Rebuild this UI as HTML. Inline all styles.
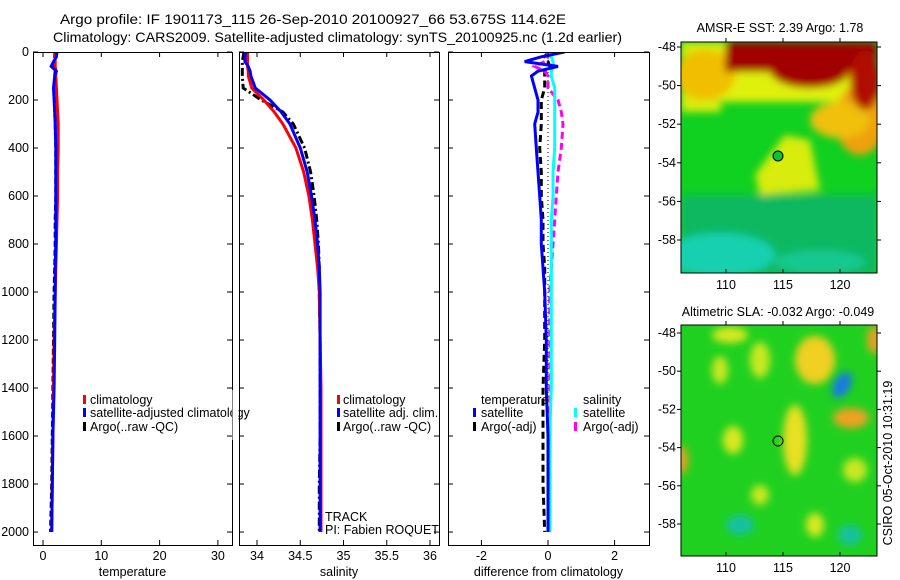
<!DOCTYPE html>
<html><head><meta charset="utf-8"><style>
body{margin:0;background:#fff;}
svg{display:block;font-family:"Liberation Sans",sans-serif;}
text{font-size:12.5px;fill:#000;}
</style></head><body>
<svg id="fig" width="900" height="580">
<defs>
<filter id="blur1" x="-50%" y="-50%" width="200%" height="200%"><feGaussianBlur stdDeviation="4"/></filter>
<clipPath id="c1"><rect x="33" y="52" width="199" height="493"/></clipPath>
<clipPath id="c2"><rect x="239" y="52" width="200" height="493"/></clipPath>
<clipPath id="c3"><rect x="448" y="52" width="201" height="493"/></clipPath>
<clipPath id="m1"><rect x="681" y="42" width="196" height="231"/></clipPath>
<clipPath id="m2"><rect x="681" y="325" width="196" height="231"/></clipPath>
</defs>
<text x="60" y="24" textLength="506" lengthAdjust="spacingAndGlyphs" style="font-size:14px">Argo profile: IF 1901173_115 26-Sep-2010 20100927_66 53.675S 114.62E</text>
<text x="53" y="42" textLength="569" lengthAdjust="spacingAndGlyphs" style="font-size:14px">Climatology: CARS2009. Satellite-adjusted climatology: synTS_20100925.nc (1.2d earlier)</text>
<g id="g1" clip-path="url(#c1)"></g>
<g id="g2" clip-path="url(#c2)"></g>
<g id="g3" clip-path="url(#c3)"></g>
<g id="axes"></g>

<!-- SST map -->
<g clip-path="url(#m1)">
<rect x="681" y="42" width="196" height="231" fill="#10d020"/>
<g filter="url(#blur1)">
<rect x="681" y="195" width="196" height="80" fill="#10b860"/>
<ellipse cx="720" cy="255" rx="55" ry="22" fill="#18d0b0"/>
<ellipse cx="820" cy="262" rx="45" ry="12" fill="#18c890"/>
<rect x="681" y="42" width="196" height="60" fill="#e0f010"/>
<rect x="681" y="42" width="40" height="70" fill="#d8ec10"/>
<ellipse cx="705" cy="75" rx="30" ry="25" fill="#f0c000"/>
<ellipse cx="860" cy="120" rx="25" ry="35" fill="#f0a010"/>
<ellipse cx="840" cy="120" rx="30" ry="18" fill="#f0c010"/>
<polygon points="785,135 810,140 820,190 760,195 755,175" fill="#d8ec10"/>
<rect x="725" y="42" width="152" height="30" fill="#a00000"/>
<ellipse cx="810" cy="70" rx="40" ry="18" fill="#a00000"/>
<ellipse cx="865" cy="80" rx="15" ry="30" fill="#b01000"/>
</g>
</g>
<rect x="681" y="42" width="196" height="231" fill="none" stroke="#000"/>
<circle cx="778" cy="156" r="5" fill="#10c030" stroke="#000"/>
<text x="780" y="32" text-anchor="middle">AMSR-E SST: 2.39 Argo: 1.78</text>

<!-- SLA map -->
<g clip-path="url(#m2)">
<rect x="681" y="325" width="196" height="231" fill="#20d020"/>
<g filter="url(#blur1)">
<ellipse cx="815" cy="360" rx="20" ry="24" fill="#f0d020"/>
<ellipse cx="795" cy="440" rx="12" ry="35" fill="#e8e020"/>
<ellipse cx="851" cy="418" rx="18" ry="10" fill="#f0a020"/>
<ellipse cx="730" cy="335" rx="18" ry="8" fill="#d8e820"/>
<ellipse cx="733" cy="440" rx="10" ry="14" fill="#d8e820"/>
<ellipse cx="760" cy="360" rx="10" ry="18" fill="#c8e820"/>
<ellipse cx="720" cy="370" rx="8" ry="14" fill="#c8e820"/>
<ellipse cx="815" cy="525" rx="9" ry="12" fill="#d8e820"/>
<ellipse cx="760" cy="495" rx="9" ry="10" fill="#c8e820"/>
<ellipse cx="855" cy="470" rx="12" ry="12" fill="#c8e820"/>
<ellipse cx="740" cy="525" rx="14" ry="10" fill="#18c0a0"/>
<ellipse cx="850" cy="535" rx="12" ry="10" fill="#18c0a0"/>
<ellipse cx="874" cy="340" rx="7" ry="14" fill="#e8a020"/>
<ellipse cx="682" cy="460" rx="6" ry="14" fill="#e8a020"/>
</g>
<ellipse cx="842" cy="385" rx="8" ry="14" fill="#1878e8" transform="rotate(30 842 385)" filter="url(#blur1)"/>
</g>
<rect x="681" y="325" width="196" height="231" fill="none" stroke="#000"/>
<circle cx="778" cy="441" r="5" fill="none" stroke="#000"/>
<text x="778" y="316" text-anchor="middle">Altimetric SLA: -0.032 Argo: -0.049</text>
<text transform="translate(892,463) rotate(-90)" text-anchor="middle">CSIRO 05-Oct-2010 10:31:19</text>
<g id="maxes"></g>

<!-- legends -->
<g>
<rect x="83" y="395" width="3" height="9" fill="red"/><text x="90" y="404">climatology</text>
<rect x="83" y="408" width="3" height="9" fill="blue"/><text x="90" y="417">satellite-adjusted climatology</text>
<rect x="83" y="422" width="3" height="9" fill="#000"/><text x="90" y="431">Argo(..raw -QC)</text>
</g>
<rect x="232.5" y="390" width="6" height="50" fill="#fff"/>
<g>
<rect x="337" y="395" width="3" height="9" fill="red"/><text x="343" y="404">climatology</text>
<rect x="337" y="408" width="3" height="9" fill="blue"/><text x="343" y="417">satellite adj. clim.</text>
<rect x="337" y="422" width="3" height="9" fill="#000"/><text x="343" y="431">Argo(..raw -QC)</text>
<text x="325" y="521">TRACK</text>
<text x="325" y="534">PI: Fabien ROQUET</text>
</g>
<g>
<text x="481" y="404">temperature</text>
<rect x="473" y="408" width="3" height="9" fill="blue"/><text x="481" y="417">satellite</text>
<rect x="473" y="422" width="3" height="9" fill="#000"/><text x="481" y="431">Argo(-adj)</text>
<text x="583" y="404">salinity</text>
<rect x="574" y="408" width="3" height="9" fill="cyan"/><text x="583" y="417">satellite</text>
<rect x="574" y="422" width="3" height="9" fill="magenta"/><text x="583" y="431">Argo(-adj)</text>
</g>
</svg>
<script>
// depth grid (dbar)
const depths = [0,20,40,60,80,100,150,200,250,300,400,500,600,700,800,900,1000,1200,1400,1600,1800,2000];
// temperature
const tClim = [2.0,2.1,2.1,2.1,2.2,2.2,2.3,2.4,2.5,2.6,2.6,2.5,2.5,2.4,2.3,2.2,2.1,1.9,1.8,1.7,1.6,1.5];
const tSat  = [2.4,2.3,1.8,1.4,2.3,2.0,1.8,1.9,2.0,2.1,2.2,2.2,2.2,2.2,2.2,2.1,2.1,2.0,1.9,1.7,1.6,1.5];
const tArgo = [2.0,2.0,2.0,1.9,2.1,2.0,1.9,2.0,2.0,2.1,2.2,2.2,2.2,2.1,2.1,2.0,1.9,1.8,1.7,1.6,1.5,1.3];
// salinity
const sClim = [33.89,33.89,33.89,33.89,33.9,33.9,33.94,34.08,34.2,34.3,34.45,34.54,34.6,34.64,34.67,34.7,34.72,34.73,34.74,34.74,34.74,34.74];
const sSat  = [33.87,33.86,33.86,33.9,33.92,33.93,33.98,34.15,34.28,34.38,34.5,34.58,34.63,34.67,34.7,34.72,34.73,34.73,34.73,34.73,34.73,34.73];
const sArgo = [33.85,33.84,33.83,33.83,33.83,33.83,33.84,34.05,34.3,34.42,34.55,34.62,34.66,34.69,34.71,34.72,34.72,34.73,34.73,34.73,34.72,34.72];
// differences
const dTSat  = [0.5,-0.2,-0.7,0.3,-0.3,-0.5,-0.4,-0.3,-0.3,-0.4,-0.35,-0.3,-0.25,-0.2,-0.2,-0.15,-0.1,-0.05,-0.05,0,0,0];
const dTArgo = [0,-0.1,0,0.05,-0.1,-0.1,-0.1,-0.2,-0.2,-0.2,-0.25,-0.2,-0.2,-0.15,-0.15,-0.1,-0.1,-0.1,-0.15,-0.15,-0.15,-0.1];
const dSSat  = [0,0.1,0.15,0.15,0.1,0.1,0.2,0.2,0.2,0.2,0.2,0.15,0.15,0.1,0.1,0.1,0.1,0.1,0.1,0.05,0.05,0.05];
const dSArgo = [-0.05,0,-0.1,-0.4,-0.1,0,0,0.3,0.4,0.45,0.4,0.3,0.25,0.2,0.15,0.1,0.05,0.05,0.05,0.05,0.05,0.05];
const tTicks = [0,10,20,30];
const sTicks = [34,34.5,35,35.5,36];
const dTicks = [-2,0,2];
const yTicks = [0,200,400,600,800,1000,1200,1400,1600,1800,2000];
const lonTicks = [110,115,120];
const latTicks = [48,50,52,54,56,58];

const NS='http://www.w3.org/2000/svg';
const Y0=52, Y1=545, YMAX=2054;
const y = d => Y0 + d/YMAX*(Y1-Y0);
const xT = v => 43 + v*5.83;
const xS = v => 257 + (v-34)*86.5;
const xD = v => 548 + v*33.3;
function mk(tag, attrs, parent){const e=document.createElementNS(NS,tag);for(const k in attrs)e.setAttribute(k,attrs[k]);parent.appendChild(e);return e;}
function line(g, vals, fx, color, dash, name, w){
  let d='';
  vals.forEach((v,i)=>{d+=(i?'L':'M')+fx(v).toFixed(1)+','+y(depths[i]).toFixed(1);});
  const p=mk('path',{d:d,fill:'none',stroke:color,'stroke-width':w||3},g);
  if(dash)p.setAttribute('stroke-dasharray',dash);
  
  
}
const g1=document.getElementById('g1'),g2=document.getElementById('g2'),g3=document.getElementById('g3');
line(g1,tArgo,xT,'#000','6,3','temp-argo-line');
line(g1,tClim,xT,'red',null,'temp-climatology-line');
line(g1,tSat,xT,'blue',null,'temp-satellite-line');
line(g2,sArgo,xS,'#000','8,3,2,3','sal-argo-line');
line(g2,sClim,xS,'red',null,'sal-climatology-line');
line(g2,sSat,xS,'blue',null,'sal-satellite-line');
const zl=mk('line',{x1:xD(0),x2:xD(0),y1:y(0),y2:y(2000),stroke:'#000','stroke-dasharray':'1,3'},g3);


line(g3,dTArgo,xD,'#000','7,4','diff-temp-argo-line');
line(g3,dSArgo,xD,'magenta','7,4','diff-sal-argo-line');
line(g3,dSSat,xD,'cyan',null,'diff-sal-satellite-line');
line(g3,dTSat,xD,'blue',null,'diff-temp-satellite-line');

const ax=document.getElementById('axes');
function panel(x0,x1,ticks,fx,label,name,ylabels){
  const r=mk('rect',{x:x0+0.5,y:Y0+0.5,width:x1-x0,height:Y1-Y0,fill:'none',stroke:'#000'},ax);
  
  
  ticks.forEach(t=>{const X=fx(t);
    mk('line',{x1:X,x2:X,y1:Y1,y2:Y1-5,stroke:'#000'},ax);
    mk('line',{x1:X,x2:X,y1:Y0,y2:Y0+5,stroke:'#000'},ax);
    const tx=mk('text',{x:X,y:Y1+15,'text-anchor':'middle'},ax);tx.textContent=t;
    
    
  });
  yTicks.forEach(d=>{const Y=y(d);
    mk('line',{x1:x0,x2:x0+5,y1:Y,y2:Y,stroke:'#000'},ax);
    mk('line',{x1:x1-5,x2:x1,y1:Y,y2:Y,stroke:'#000'},ax);
    if(ylabels){const tx=mk('text',{x:x0-4,y:Y+4,'text-anchor':'end'},ax);tx.textContent=d;
      
      }
  });
  const lb=mk('text',{x:(x0+x1)/2,y:Y1+31,'text-anchor':'middle'},ax);lb.textContent=label;
  
  
}
panel(33,232,tTicks,xT,'temperature','temperature',true);
panel(239,439,sTicks,xS,'salinity','salinity',false);
panel(448,649,dTicks,xD,'difference from climatology','difference',false);

const ma=document.getElementById('maxes');
const lonX = v => 726 + (v-110)*11.4;
[[42,273,47,19.3],[325,556,333,19.1]].forEach(([t,b,y48,s])=>{
  lonTicks.forEach(v=>{const X=lonX(v);
    mk('line',{x1:X,x2:X,y1:b,y2:b-4,stroke:'#000'},ma);
    mk('line',{x1:X,x2:X,y1:t,y2:t-4,stroke:'#000'},ma);
    const tx=mk('text',{x:X,y:b+16,'text-anchor':'middle'},ma);tx.textContent=v;
    
    
  });
  latTicks.forEach(v=>{const Y=y48+(v-48)*s;
    mk('line',{x1:677,x2:681,y1:Y,y2:Y,stroke:'#000'},ma);
    mk('line',{x1:877,x2:881,y1:Y,y2:Y,stroke:'#000'},ma);
    const tx=mk('text',{x:676,y:Y+4,'text-anchor':'end'},ma);tx.textContent='-'+v;
    
    
  });
});
</script>
</body></html>
